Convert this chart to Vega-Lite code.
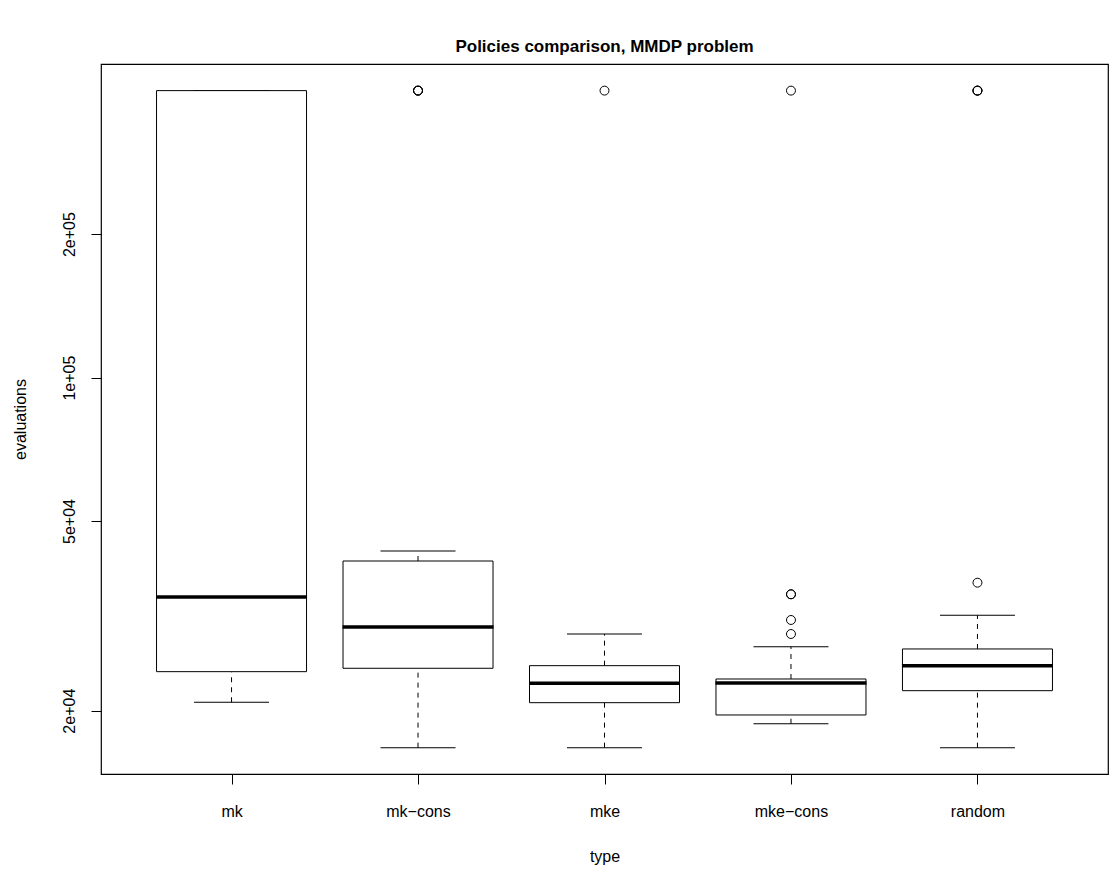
{
  "$schema": "https://vega.github.io/schema/vega-lite/v6.json",
  "width": 1007,
  "height": 710,
  "autosize": {"type": "none"},
  "padding": {"left": 101, "top": 64, "right": 5, "bottom": 97},
  "background": "white",
  "title": {
    "text": "Policies comparison, MMDP problem",
    "font": "Liberation Sans",
    "fontSize": 17,
    "fontWeight": "bold",
    "color": "black",
    "anchor": "middle",
    "offset": 8
  },
  "config": {
    "view": {"stroke": "black", "strokeWidth": 1.2},
    "axis": {
      "grid": false,
      "domain": false,
      "tickColor": "black",
      "tickSize": 10,
      "labelFont": "Liberation Sans",
      "labelFontSize": 16,
      "labelColor": "black",
      "titleFont": "Liberation Sans",
      "titleFontSize": 16,
      "titleFontWeight": "normal",
      "titleColor": "black"
    }
  },
  "datasets": {
    "stats": [
      {"type": "mk", "lower": 20830, "q1": 24150, "median": 34640, "q3": 400000, "upper": 400000},
      {"type": "mk-cons", "lower": 16730, "q1": 24550, "median": 29970, "q3": 41220, "upper": 43260},
      {"type": "mke", "lower": 16730, "q1": 20790, "median": 22830, "q3": 24860, "upper": 28970},
      {"type": "mke-cons", "lower": 18780, "q1": 19590, "median": 22860, "q3": 23310, "upper": 27250},
      {"type": "random", "lower": 16730, "q1": 22030, "median": 24860, "q3": 26950, "upper": 31720}
    ],
    "outliers": [
      {"type": "mk-cons", "value": 400000},
      {"type": "mk-cons", "value": 400000},
      {"type": "mk-cons", "value": 400000},
      {"type": "mke", "value": 400000},
      {"type": "mke-cons", "value": 400000},
      {"type": "mke-cons", "value": 35100},
      {"type": "mke-cons", "value": 35100},
      {"type": "mke-cons", "value": 31000},
      {"type": "mke-cons", "value": 28970},
      {"type": "random", "value": 400000},
      {"type": "random", "value": 400000},
      {"type": "random", "value": 400000},
      {"type": "random", "value": 37120}
    ]
  },
  "encoding": {
    "x": {
      "field": "type",
      "type": "nominal",
      "scale": {"type": "point", "padding": 0.7, "domain": ["mk", "mk-cons", "mke", "mke-cons", "random"]},
      "axis": {"title": "type", "labelAngle": 0, "labelPadding": 19, "titlePadding": 29, "labelExpr": "replace(datum.label, '-', '\u2212')"}
    }
  },
  "layer": [
    {
      "data": {"name": "stats"},
      "mark": {"type": "rule", "color": "black", "strokeWidth": 1, "strokeDash": [5, 5]},
      "encoding": {
        "y": {
          "field": "lower",
          "type": "quantitative",
          "scale": {"type": "log", "domain": [14730, 454900], "nice": false, "zero": false},
          "axis": {
            "title": "evaluations",
            "values": [20000, 50000, 100000, 200000],
            "labelExpr": "datum.value == 20000 ? '2e+04' : datum.value == 50000 ? '5e+04' : datum.value == 100000 ? '1e+05' : '2e+05'",
            "labelAngle": 270,
            "labelAlign": "center",
            "labelBaseline": "bottom",
            "labelPadding": 14,
            "titlePadding": 33
          }
        },
        "y2": {"field": "q1"}
      }
    },
    {
      "data": {"name": "stats"},
      "mark": {"type": "rule", "color": "black", "strokeWidth": 1, "strokeDash": [5, 5]},
      "encoding": {
        "y": {"field": "q3", "type": "quantitative"},
        "y2": {"field": "upper"}
      }
    },
    {
      "data": {"name": "stats"},
      "mark": {"type": "tick", "color": "black", "size": 75, "thickness": 1, "opacity": 1},
      "encoding": {"y": {"field": "lower", "type": "quantitative"}}
    },
    {
      "data": {"name": "stats"},
      "mark": {"type": "tick", "color": "black", "size": 75, "thickness": 1, "opacity": 1},
      "encoding": {"y": {"field": "upper", "type": "quantitative"}}
    },
    {
      "data": {"name": "stats"},
      "mark": {"type": "bar", "fill": "white", "stroke": "black", "strokeWidth": 1, "width": 150},
      "encoding": {
        "y": {"field": "q1", "type": "quantitative"},
        "y2": {"field": "q3"}
      }
    },
    {
      "data": {"name": "stats"},
      "mark": {"type": "tick", "color": "black", "size": 151, "thickness": 3.5, "opacity": 1},
      "encoding": {"y": {"field": "median", "type": "quantitative"}}
    },
    {
      "data": {"name": "outliers"},
      "mark": {"type": "point", "shape": "circle", "filled": false, "stroke": "black", "strokeWidth": 1, "size": 80, "opacity": 1},
      "encoding": {"y": {"field": "value", "type": "quantitative"}}
    }
  ]
}
